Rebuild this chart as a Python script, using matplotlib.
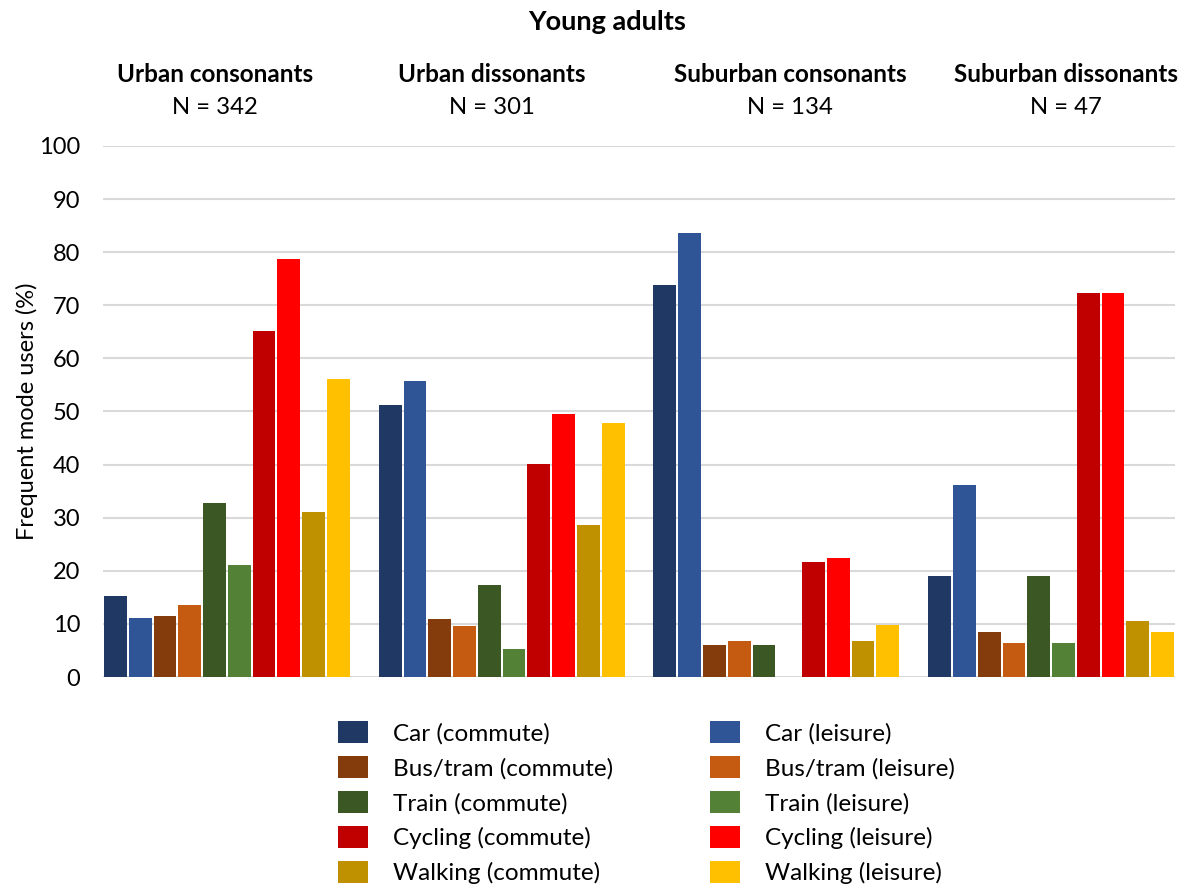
import matplotlib
matplotlib.use("Agg")
import matplotlib.pyplot as plt
from matplotlib.patches import Patch
import numpy as np

plt.rcParams['font.family'] = ['Lato', 'DejaVu Sans']

groups = ["Urban consonants", "Urban dissonants", "Suburban consonants", "Suburban dissonants"]
group_n = ["N = 342", "N = 301", "N = 134", "N = 47"]

series = ["Car (commute)", "Car (leisure)",
          "Bus/tram (commute)", "Bus/tram (leisure)",
          "Train (commute)", "Train (leisure)",
          "Cycling (commute)", "Cycling (leisure)",
          "Walking (commute)", "Walking (leisure)"]

colors = ["#203864", "#2F5597",
          "#843C0C", "#C55A11",
          "#3A5724", "#538135",
          "#C00000", "#FF0000",
          "#BF9000", "#FFC000"]

car_commute = [15.2, 51.2, 73.9, 19.1]
car_leisure = [11.1, 55.8, 83.6, 36.2]
bus_commute = [11.4, 11.0, 6.0, 8.5]
bus_leisure = [13.5, 9.6, 6.7, 6.4]
train_commute = [32.7, 17.3, 6.0, 19.1]
train_leisure = [21.1, 5.3, 0.0, 6.4]
cycling_commute = [65.2, 40.2, 21.6, 72.3]
cycling_leisure = [78.7, 49.5, 22.4, 72.3]
walking_commute = [31.0, 28.6, 6.7, 10.6]
walking_leisure = [56.1, 47.8, 9.7, 8.5]

values = [car_commute, car_leisure, bus_commute, bus_leisure,
          train_commute, train_leisure, cycling_commute, cycling_leisure,
          walking_commute, walking_leisure]

W, H = 1188, 888
fig = plt.figure(figsize=(W / 100, H / 100), dpi=100)

# plot area in pixels
left_px, right_px, top_px, bottom_px = 103, 1175, 146, 677
ax = fig.add_axes([left_px / W, 1 - bottom_px / H,
                   (right_px - left_px) / W, (bottom_px - top_px) / H])

group_w = 0.902
pitch = group_w / len(series)
x = np.arange(len(groups))
for j, (vals, col) in enumerate(zip(values, colors)):
    offs = -group_w / 2 + pitch * (j + 0.5)
    ax.bar(x + offs, vals, width=pitch * 0.92, color=col, label=series[j],
           zorder=3)

ax.set_xlim(-group_w / 2, len(groups) - 1 + group_w / 2)
ax.set_ylim(0, 100)
ax.set_yticks(np.arange(0, 101, 10))
ax.set_xticks([])
ax.yaxis.grid(True, color="#D9D9D9", linewidth=1.5, zorder=0)
for s in ax.spines.values():
    s.set_visible(False)
ax.tick_params(axis='y', length=0, pad=16.5, labelsize=17, labelcolor="#000000")
ax.set_ylabel("Frequent mode users (%)", fontsize=17)
ax.yaxis.set_label_coords((38 - left_px) / (right_px - left_px), 0.5)

# titles
fig.text(607 / W, 1 - 22 / H, "Young adults", ha='center', va='center',
         fontsize=19.5, fontweight='bold')
head_x = [215, 492, 790, 1066]
for gx, name, n in zip(head_x, groups, group_n):
    fig.text(gx / W, 1 - 75 / H, name, ha='center', va='center',
             fontsize=17.5, fontweight='bold')
    fig.text(gx / W, 1 - 108 / H, n, ha='center', va='center', fontsize=17.2)

# legend: commute column then leisure column
order = [0, 2, 4, 6, 8, 1, 3, 5, 7, 9]
handles = [Patch(facecolor=colors[i], edgecolor='none') for i in order]
labels = [series[i] for i in order]
fs_leg = 17.5
fig.legend(handles, labels, ncol=2, frameon=False, fontsize=fs_leg,
           loc='upper left', bbox_to_anchor=(338 / W, 1 - 721 / H),
           handlelength=1.23, handleheight=0.99, handletextpad=1.03,
           labelspacing=0.49, columnspacing=4.0, borderaxespad=0,
           borderpad=0)

fig.savefig("out.png", dpi=100)
